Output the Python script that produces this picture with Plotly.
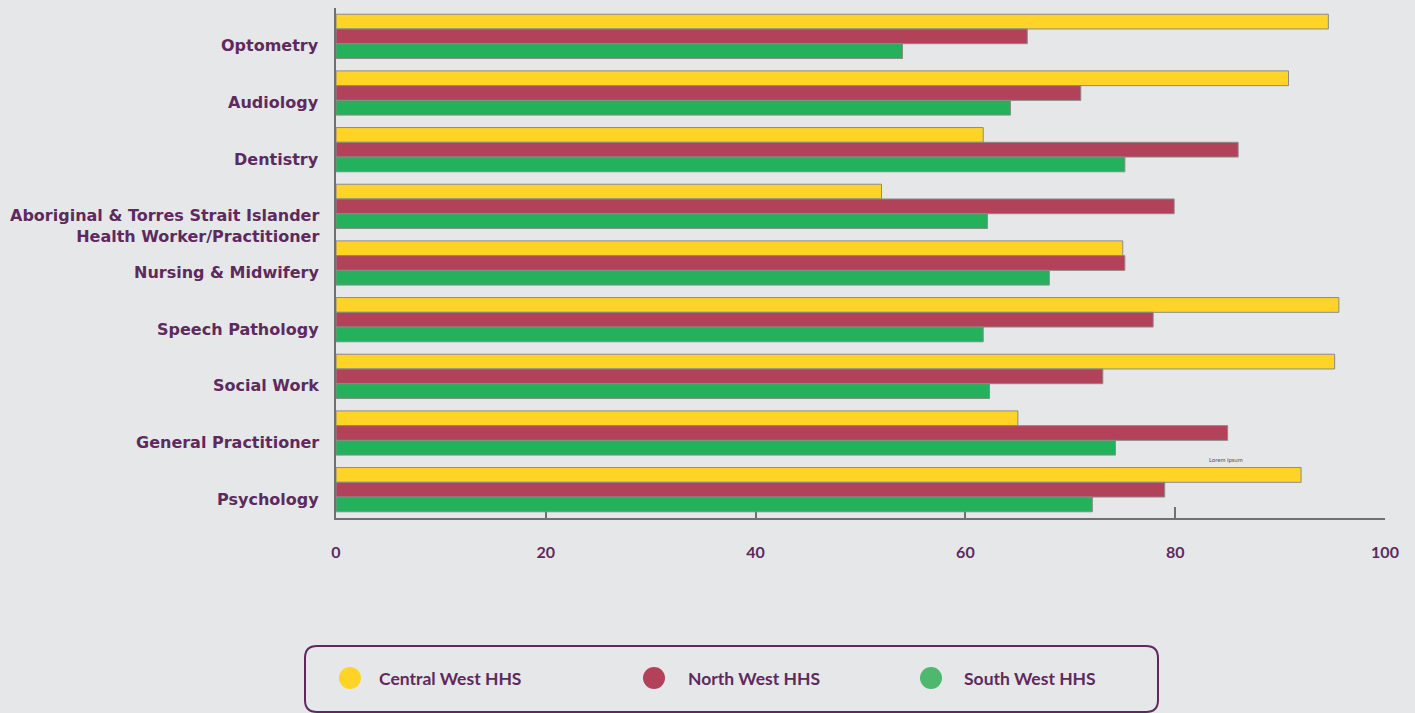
import plotly.graph_objects as go

# Professions, listed top to bottom
professions = [
    "Optometry",
    "Audiology",
    "Dentistry",
    "Aboriginal & Torres Strait Islander<br>Health Worker/Practitioner",
    "Nursing & Midwifery",
    "Speech Pathology",
    "Social Work",
    "General Practitioner",
    "Psychology",
]

series_names = ["Central West HHS", "North West HHS", "South West HHS"]

central_west = [94.6, 90.8, 61.7, 52.0, 75.0, 95.6, 95.2, 65.0, 92.0]
north_west = [65.9, 71.0, 86.0, 79.9, 75.2, 77.9, 73.1, 85.0, 79.0]
south_west = [54.0, 64.3, 75.2, 62.1, 68.0, 61.7, 62.3, 74.3, 72.1]

x_ticks = [0, 20, 40, 60, 80, 100]

bar_colors = ["#FFD426", "#B2425A", "#23B15C"]
legend_colors = ["#FFD426", "#B2425A", "#4DB86E"]
BG = "#E6E7E8"
PURPLE = "#5E2A5E"
FONT = "Lato, 'Open Sans', sans-serif"
LABEL_FONT = "'DejaVu Sans', sans-serif"

W, H = 1415, 713
ML, MR, MT, MB = 336, 30, 8, 195
PW, PH = W - ML - MR, H - MT - MB


def px_x(px):
    return (px - ML) / PW


def px_y(py):
    return (H - MB - py) / PH


fig = go.Figure()
for name, vals, col in zip(series_names, [central_west, north_west, south_west], bar_colors):
    fig.add_trace(go.Bar(
        y=professions, x=vals, name=name, orientation="h",
        marker=dict(color=col, line=dict(color="#8A8A8A", width=1)),
        showlegend=False, hoverinfo="x+name",
    ))

# Category labels sit just below each group's centre line
annotations = []
for p in professions:
    annotations.append(dict(
        x=0, xref="paper", xshift=-15, xanchor="right",
        y=p, yref="y", yanchor="top", yshift=2,
        text=p, showarrow=False, align="right",
        font=dict(family=LABEL_FONT, size=16, color=PURPLE, weight="bold"),
    ))

annotations.append(dict(
    x=84.8, xref="x", y=px_y(460), yref="paper", yshift=-5,
    text="Lorem ipsum", showarrow=False,
    font=dict(family=FONT, size=6, color="#555555"),
))

# Legend panel
shapes = []
lx0, lx1, ly0, ly1, r = 305, 1158, 646, 712, 12
x0, x1 = px_x(lx0), px_x(lx1)
y0, y1 = px_y(ly0), px_y(ly1)
rx, ry = r / PW, r / PH
path = (f"M {x0+rx},{y0} L {x1-rx},{y0} Q {x1},{y0} {x1},{y0-ry} "
        f"L {x1},{y1+ry} Q {x1},{y1} {x1-rx},{y1} "
        f"L {x0+rx},{y1} Q {x0},{y1} {x0},{y1+ry} "
        f"L {x0},{y0-ry} Q {x0},{y0} {x0+rx},{y0} Z")
shapes.append(dict(type="path", path=path, xref="paper", yref="paper",
                   line=dict(color=PURPLE, width=2), fillcolor="rgba(0,0,0,0)"))

marker_px = [350, 654, 931]
text_px = [377, 686, 962]
ly = px_y(678)
for name, col, mx, tx in zip(series_names, legend_colors, marker_px, text_px):
    shapes.append(dict(
        type="circle", xref="paper", yref="paper",
        xsizemode="pixel", ysizemode="pixel",
        xanchor=px_x(mx), yanchor=ly,
        x0=-11, x1=11, y0=-11, y1=11,
        fillcolor=col, line=dict(width=0),
    ))
    annotations.append(dict(
        x=px_x(tx), xref="paper", xanchor="left",
        y=ly, yref="paper", yanchor="middle",
        text=name, showarrow=False,
        font=dict(family=FONT, size=17.5, color=PURPLE, weight="bold"),
    ))

fig.update_layout(
    width=W, height=H,
    margin=dict(l=ML, r=MR, t=MT, b=MB, pad=0),
    paper_bgcolor=BG, plot_bgcolor=BG,
    barmode="group", bargap=0.22, bargroupgap=0,
    annotations=annotations, shapes=shapes,
    showlegend=False,
)

fig.update_xaxes(
    range=[0, 100], tickvals=x_ticks, ticktext=[str(t) for t in x_ticks],
    showgrid=False, zeroline=False,
    showline=True, linecolor="#707070", linewidth=1.5,
    ticks="inside", ticklen=11, tickcolor="#707070", tickwidth=1.5,
    ticklabelstandoff=19,
    tickfont=dict(family=FONT, size=16, color=PURPLE, weight="bold"),
    layer="below traces", fixedrange=True,
)
fig.update_yaxes(
    categoryorder="array", categoryarray=professions, autorange="reversed",
    showticklabels=False, showgrid=False, zeroline=False,
    showline=True, linecolor="#707070", linewidth=1.5,
    ticks="", layer="below traces", fixedrange=True,
)

fig.write_html("out.html")
